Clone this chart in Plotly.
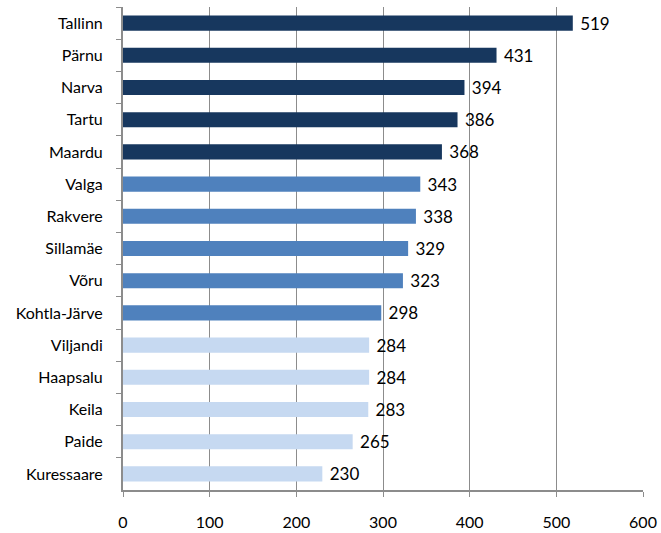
import plotly.graph_objects as go

cities = ["Tallinn", "Pärnu", "Narva", "Tartu", "Maardu", "Valga", "Rakvere",
          "Sillamäe", "Võru", "Kohtla-Järve", "Viljandi", "Haapsalu", "Keila",
          "Paide", "Kuressaare"]
values = [519, 431, 394, 386, 368, 343, 338, 329, 323, 298, 284, 284, 283, 265, 230]
groups = [0, 0, 0, 0, 0, 1, 1, 1, 1, 1, 2, 2, 2, 2, 2]

_COLORS = ["#17375E", "#4F81BD", "#C6D9F1"]
_FONT = dict(family="Lato, sans-serif", size=16, color="#000000")

fig = go.Figure(go.Bar(
    x=values,
    y=cities,
    orientation="h",
    width=0.47,
    marker=dict(color=[_COLORS[g] for g in groups], line=dict(width=0)),
    text=[f" {v}" for v in values],
    textposition="outside",
    constraintext="none",
    textfont=dict(size=17, color="#000000"),
    cliponaxis=False,
))

fig.update_layout(
    width=661, height=533,
    margin=dict(l=123, r=18, t=7, b=43),
    plot_bgcolor="white", paper_bgcolor="white",
    font=_FONT,
    showlegend=False,
    xaxis=dict(
        range=[0, 600], dtick=100, tick0=0,
        showgrid=True, gridcolor="#8C8C8C", gridwidth=1,
        showline=True, linecolor="#8C8C8C", linewidth=2,
        ticks="outside", ticklen=5, tickcolor="#8C8C8C",
        zeroline=False, automargin=False, ticklabelstandoff=12,
    ),
    yaxis=dict(
        autorange="reversed",
        showline=True, linecolor="#8C8C8C", linewidth=2,
        ticks="outside", ticklen=5, tickcolor="#8C8C8C", tickson="boundaries",
        ticklabelstandoff=15, automargin=False,
        showgrid=False,
    ),
)

# drop the default body margin so the figure fills the window exactly
fig.write_html(
    "out.html",
    config={"displayModeBar": False},
    post_script="document.body.style.margin='0';document.body.style.overflow='hidden';",
)
